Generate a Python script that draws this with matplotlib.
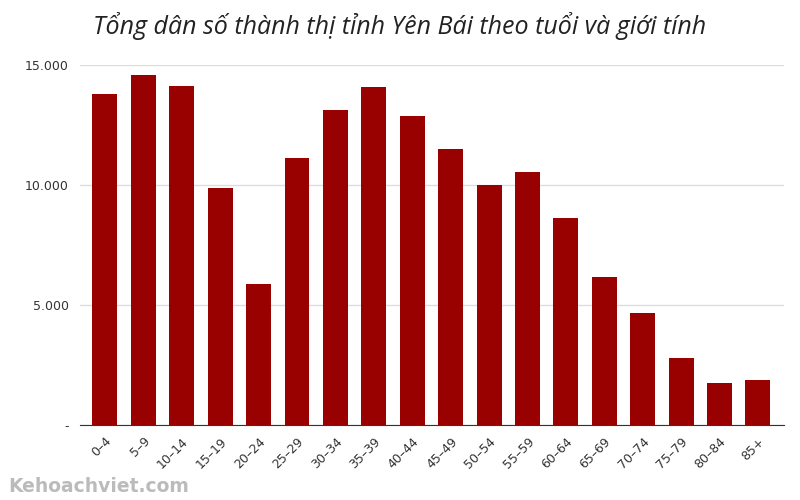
import matplotlib
matplotlib.use('Agg')
import matplotlib.pyplot as plt

# age groups and total urban population
age_groups = ['0–4', '5–9', '10–14', '15–19', '20–24', '25–29', '30–34', '35–39', '40–44',
              '45–49', '50–54', '55–59', '60–64', '65–69', '70–74', '75–79', '80–84', '85+']
population = [13800, 14580, 14120, 9870, 5870, 11120, 13120, 14080, 12870,
              11500, 10020, 10540, 8620, 6170, 4680, 2800, 1770, 1870]

yticks = [0, 5000, 10000, 15000]
ytick_labels = ['-', '5.000', '10.000', '15.000']

fig = plt.figure(figsize=(8, 5), dpi=100)
ax = fig.add_axes([0.1, 0.15, 0.88, 0.72])

ax.bar(range(len(age_groups)), population, width=0.65, color='#990000', zorder=3)

ax.set_xlim(-0.65, 17.68)
ax.set_ylim(0, 15000)
ax.set_yticks(yticks)
ax.set_yticklabels(ytick_labels)
ax.set_xticks(range(len(age_groups)))
ax.set_xticklabels(age_groups, rotation=45, ha='right', rotation_mode='anchor')
ax.tick_params(axis='both', length=0, labelsize=9, colors='#333333', pad=8)
ax.tick_params(axis='x', pad=7)

ax.grid(axis='y', color='#dddddd', linewidth=1, zorder=0)
for side in ['top', 'right', 'left']:
    ax.spines[side].set_visible(False)
ax.spines['bottom'].set_color('#333333')

fig.text(0.5, 0.948, 'Tổng dân số thành thị tỉnh Yên Bái theo tuổi và giới tính',
         ha='center', va='center', fontsize=18, style='italic', fontweight='normal',
         family='Open Sans', color='#222222')
fig.text(0.01, 0.027, 'Kehoachviet.com', ha='left', va='center', fontsize=13.5,
         fontweight='bold', color='#bbbbbb')

fig.savefig('out.png', dpi=100)
